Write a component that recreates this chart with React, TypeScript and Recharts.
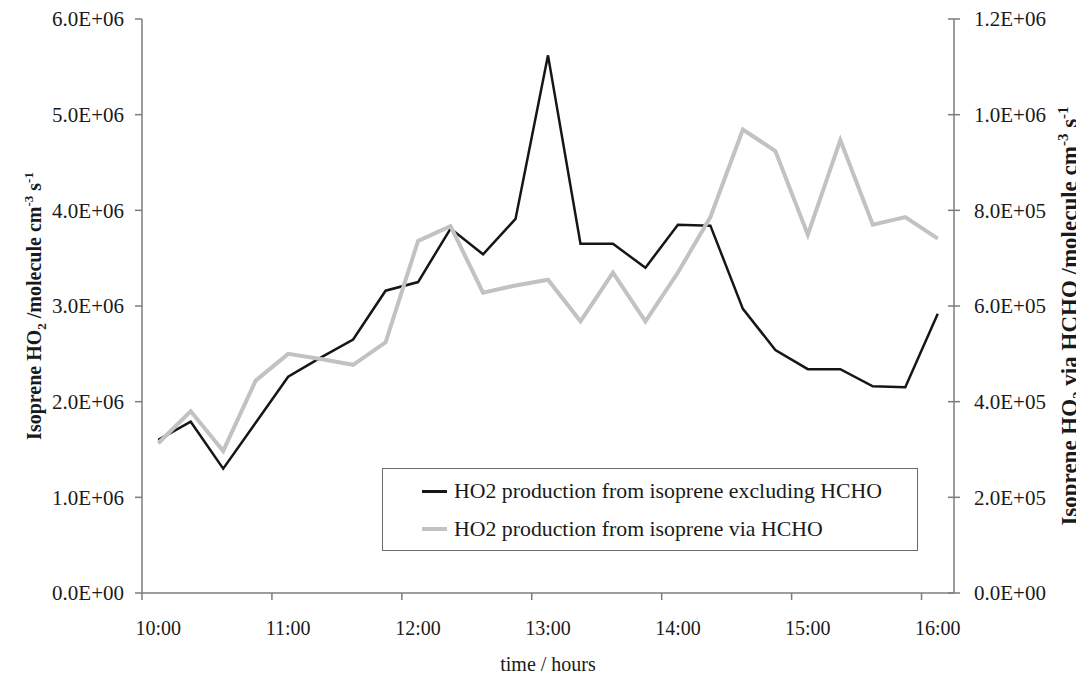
import React from 'react';
import { LineChart, Line, XAxis, YAxis, Legend } from 'recharts';

// 15-minute steps, 10:00 – 16:00
const times = [
  '10:00', '10:15', '10:30', '10:45', '11:00', '11:15', '11:30', '11:45',
  '12:00', '12:15', '12:30', '12:45', '13:00', '13:15', '13:30', '13:45',
  '14:00', '14:15', '14:30', '14:45', '15:00', '15:15', '15:30', '15:45', '16:00',
];
const hourLabels = ['10:00', '11:00', '12:00', '13:00', '14:00', '15:00', '16:00'];

// left axis, molecule cm-3 s-1
const exclHcho = [
  1.6e6, 1.79e6, 1.3e6, 1.78e6, 2.26e6, 2.46e6, 2.65e6, 3.16e6, 3.25e6, 3.81e6,
  3.54e6, 3.91e6, 5.62e6, 3.65e6, 3.65e6, 3.4e6, 3.85e6, 3.84e6, 2.97e6, 2.54e6,
  2.34e6, 2.34e6, 2.16e6, 2.15e6, 2.92e6,
];
// right axis, molecule cm-3 s-1
const viaHcho = [
  3.13e5, 3.8e5, 2.97e5, 4.44e5, 5.0e5, 4.89e5, 4.77e5, 5.24e5, 7.36e5, 7.67e5,
  6.28e5, 6.43e5, 6.55e5, 5.68e5, 6.7e5, 5.68e5, 6.7e5, 7.86e5, 9.69e5, 9.24e5,
  7.49e5, 9.47e5, 7.7e5, 7.86e5, 7.41e5,
];

const leftTicks = [0, 1e6, 2e6, 3e6, 4e6, 5e6, 6e6];
const rightTicks = [0, 2e5, 4e5, 6e5, 8e5, 1e6, 1.2e6];

const seriesNames: Record<string, string> = {
  excl: 'HO2 production from isoprene excluding HCHO',
  via: 'HO2 production from isoprene via HCHO',
};

const data = times.map((t, i) => ({ idx: i, time: t, excl: exclHcho[i], via: viaHcho[i] }));
const hourTicks = hourLabels.map((h) => times.indexOf(h));

const FONT = '"Liberation Serif", "Times New Roman", serif';
const AXIS = '#7c7c7c';
const INK = '#1a1a1a';
const BLACK = '#161616';
const GREY = '#c2c2c2';

const X_TICK = 7;
const X_MARGIN = 21;
const R_TICK = 6;
const R_MARGIN = 14;

function sci(v: number): string {
  // 6000000 -> 6.0E+06
  const [m, e] = v.toExponential(1).split('e');
  return `${m}E${e[0]}${e.slice(1).padStart(2, '0')}`;
}

function TimeTick(props: any) {
  const { x, y, payload, width } = props;
  const half = width / times.length / 2;
  const axisY = y - X_TICK - X_MARGIN;
  return (
    <g>
      <line x1={x - half} x2={x - half} y1={axisY} y2={axisY + X_TICK} stroke={AXIS} strokeWidth={1.5} />
      <text x={x} y={y} dy="0.71em" textAnchor="middle" fill={INK} fontSize={20} fontFamily={FONT}>
        {times[payload.value]}
      </text>
    </g>
  );
}

function RightTick(props: any) {
  const { x, y, payload } = props;
  const axisX = x - R_TICK - R_MARGIN;
  return (
    <g>
      <line x1={axisX - R_TICK} x2={axisX + R_TICK} y1={y} y2={y} stroke={AXIS} strokeWidth={1.5} />
      <text x={x} y={y} dy="0.355em" textAnchor="start" fill={INK} fontSize={21} fontFamily={FONT}>
        {sci(payload.value)}
      </text>
    </g>
  );
}

function UnitTitle({ cx, cy, via, size }: { cx: number; cy: number; via: boolean; size: number }) {
  const small = Math.round(size * 0.65);
  const sub = size * 0.25;
  const sup = size * 0.4;
  return (
    <text
      transform={`translate(${cx},${cy}) rotate(-90)`}
      textAnchor="middle"
      fontSize={size}
      fontWeight="bold"
      fontFamily={FONT}
      fill={INK}
    >
      <tspan>Isoprene HO</tspan>
      <tspan dy={sub} fontSize={small}>2</tspan>
      <tspan dy={-sub}>{via ? ' via HCHO /molecule cm' : ' /molecule cm'}</tspan>
      <tspan dy={-sup} fontSize={small}>-3</tspan>
      <tspan dy={sup}> s</tspan>
      <tspan dy={-sup} fontSize={small}>-1</tspan>
    </text>
  );
}

function LegendBox({ payload }: any) {
  const items = [...(payload || [])].sort((a: any, b: any) =>
    a.dataKey === 'excl' ? -1 : b.dataKey === 'excl' ? 1 : 0,
  );
  return (
    <div
      style={{
        width: '100%',
        height: '100%',
        boxSizing: 'border-box',
        border: '1px solid #6a6a6a',
        background: '#fff',
        paddingTop: 3,
        paddingLeft: 39,
        fontFamily: FONT,
        fontSize: 21.8,
        color: INK,
      }}
    >
      {items.map((p: any) => (
        <div key={p.dataKey} style={{ height: 38, display: 'flex', alignItems: 'center' }}>
          <span
            style={{
              display: 'inline-block',
              width: 25,
              height: p.dataKey === 'excl' ? 3 : 4,
              background: p.color,
              marginRight: 7,
            }}
          />
          <span style={{ whiteSpace: 'nowrap' }}>{p.value}</span>
        </div>
      ))}
    </div>
  );
}

export default function App() {
  return (
    <div style={{ position: 'absolute', left: 0, top: 0, width: 1076, height: 675, background: '#fff' }}>
      <LineChart width={1076} height={675} data={data} margin={{ top: 19, right: 0, bottom: 0, left: 0 }}>
        <XAxis
          xAxisId="t"
          dataKey="idx"
          type="number"
          domain={[-0.5, times.length - 0.5]}
          ticks={hourTicks}
          interval={0}
          height={82}
          tickSize={X_TICK}
          tickMargin={X_MARGIN}
          tickLine={false}
          tick={<TimeTick />}
          axisLine={{ stroke: AXIS, strokeWidth: 1.5 }}
          label={{
            value: 'time / hours',
            position: 'insideBottom',
            offset: 4,
            fill: INK,
            fontSize: 20,
            fontFamily: FONT,
          }}
        />
        <YAxis
          yAxisId="left"
          orientation="left"
          width={142}
          domain={[0, 6e6]}
          ticks={leftTicks}
          interval={0}
          tickFormatter={sci}
          tickSize={7}
          tickMargin={11}
          tick={{ fill: INK, fontSize: 21, fontFamily: FONT }}
          tickLine={{ stroke: AXIS, strokeWidth: 1.5 }}
          axisLine={{ stroke: AXIS, strokeWidth: 1.5 }}
          label={{
            content: (p: any) => {
              const vb = p.viewBox;
              return <UnitTitle cx={vb.x + 41} cy={vb.y + vb.height / 2} via={false} size={20} />;
            },
          }}
        />
        <YAxis
          yAxisId="right"
          orientation="right"
          width={122}
          domain={[0, 1.2e6]}
          ticks={rightTicks}
          interval={0}
          tickSize={R_TICK}
          tickMargin={R_MARGIN}
          tickLine={false}
          tick={<RightTick />}
          axisLine={{ stroke: AXIS, strokeWidth: 1.5 }}
          label={{
            content: (p: any) => {
              const vb = p.viewBox;
              return <UnitTitle cx={vb.x + vb.width + 1} cy={vb.y + vb.height / 2 + 10} via size={23} />;
            },
          }}
        />
        <Legend
          layout="horizontal"
          verticalAlign="middle"
          align="center"
          wrapperStyle={{ left: 382, top: 468, width: 536, height: 83 }}
          content={<LegendBox />}
        />
        <Line
          xAxisId="t"
          yAxisId="left"
          type="linear"
          dataKey="excl"
          name={seriesNames.excl}
          stroke={BLACK}
          strokeWidth={2.5}
          dot={false}
          activeDot={false}
          isAnimationActive={false}
        />
        <Line
          xAxisId="t"
          yAxisId="right"
          type="linear"
          dataKey="via"
          name={seriesNames.via}
          stroke={GREY}
          strokeWidth={4}
          dot={false}
          activeDot={false}
          isAnimationActive={false}
        />
      </LineChart>
    </div>
  );
}
